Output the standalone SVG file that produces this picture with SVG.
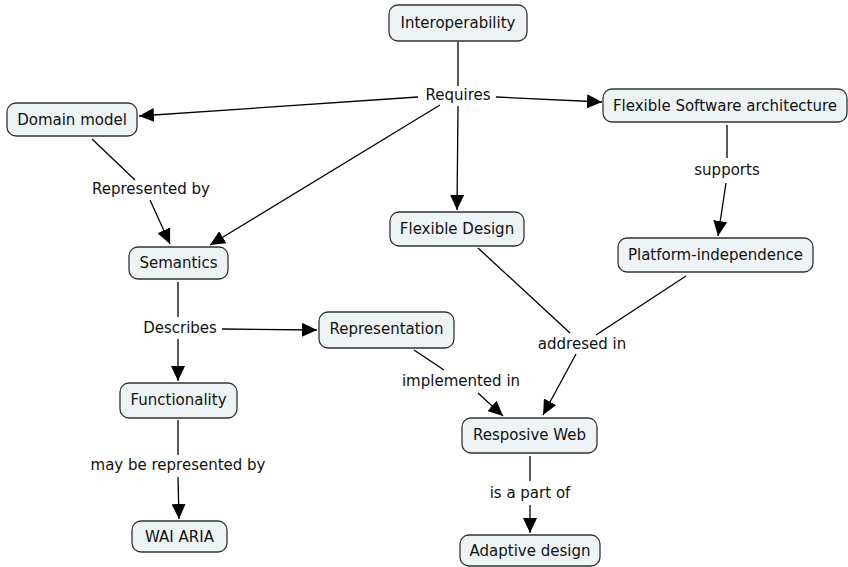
<svg xmlns="http://www.w3.org/2000/svg" width="848" height="567" viewBox="0 0 848 567">
  <defs>
    <marker id="arrow" markerWidth="15" markerHeight="14" refX="15" refY="7" orient="auto" markerUnits="userSpaceOnUse">
      <path d="M0,0 L15,7 L0,14 Z" fill="#000"/>
    </marker>
    <style>
      .node rect { fill: #eef3f5; stroke: #333; stroke-width: 1.3; }
      .node text, .label { font-family: "DejaVu Sans", Verdana, sans-serif; font-size: 15px; fill: #111; text-anchor: middle; dominant-baseline: central; }
      .link { stroke: #000; stroke-width: 1.3; fill: none; }
      .arrow { marker-end: url(#arrow); }
    </style>
  </defs>
  <rect width="848" height="567" fill="#fff"/>

  <!-- connectors -->
  <g id="connectors">
    <line class="link" x1="458" y1="42" x2="458" y2="86"/>
    <line class="link arrow" x1="418" y1="97" x2="139" y2="116"/>
    <line class="link arrow" x1="496" y1="97" x2="602" y2="102"/>
    <line class="link arrow" x1="440" y1="105" x2="210" y2="245"/>
    <line class="link arrow" x1="458" y1="106" x2="457" y2="210"/>

    <line class="link" x1="92" y1="139" x2="135" y2="180"/>
    <line class="link arrow" x1="150" y1="200" x2="170" y2="244"/>

    <line class="link" x1="727" y1="125" x2="727" y2="158"/>
    <line class="link arrow" x1="726" y1="183" x2="718" y2="236"/>

    <line class="link" x1="178" y1="282" x2="178" y2="317"/>
    <line class="link arrow" x1="178" y1="339" x2="178" y2="381"/>
    <line class="link arrow" x1="222" y1="329" x2="317" y2="330"/>

    <line class="link" x1="414" y1="350" x2="444" y2="370"/>
    <line class="link arrow" x1="478" y1="393" x2="503" y2="416"/>

    <line class="link" x1="478" y1="248" x2="570" y2="333"/>
    <line class="link" x1="686" y1="276" x2="596" y2="335"/>
    <line class="link arrow" x1="576" y1="354" x2="543" y2="415"/>

    <line class="link" x1="178" y1="420" x2="178" y2="455"/>
    <line class="link arrow" x1="178" y1="477" x2="179" y2="519"/>

    <line class="link" x1="530" y1="456" x2="530" y2="481"/>
    <line class="link arrow" x1="530" y1="505" x2="530" y2="533"/>

    <text class="label" x="458" y="95">Requires</text>
    <text class="label" x="151" y="189">Represented by</text>
    <text class="label" x="727" y="170">supports</text>
    <text class="label" x="180" y="328">Describes</text>
    <text class="label" x="582" y="344">addresed in</text>
    <text class="label" x="461" y="381">implemented in</text>
    <text class="label" x="178" y="465">may be represented by</text>
    <text class="label" x="530" y="493">is a part of</text>
  </g>

  <!-- nodes -->
  <g id="interoperability" class="node"><rect x="389" y="5" width="138" height="36" rx="9"/><text x="458" y="23">Interoperability</text></g>
  <g id="domain-model" class="node"><rect x="7" y="103" width="130" height="33" rx="9"/><text x="72" y="120">Domain model</text></g>
  <g id="flexible-software-architecture" class="node"><rect x="603" y="89" width="244" height="33" rx="9"/><text x="725" y="106">Flexible Software architecture</text></g>
  <g id="semantics" class="node"><rect x="129" y="247" width="99" height="32" rx="9"/><text x="178.5" y="263">Semantics</text></g>
  <g id="flexible-design" class="node"><rect x="390" y="212" width="134" height="34" rx="9"/><text x="457" y="229">Flexible Design</text></g>
  <g id="platform-independence" class="node"><rect x="618" y="238" width="195" height="34" rx="9"/><text x="715.5" y="255">Platform-independence</text></g>
  <g id="representation" class="node"><rect x="319" y="312" width="135" height="36" rx="9"/><text x="386.5" y="329">Representation</text></g>
  <g id="functionality" class="node"><rect x="120" y="383" width="117" height="35" rx="9"/><text x="178.5" y="400">Functionality</text></g>
  <g id="responsive-web" class="node"><rect x="462" y="418" width="135" height="35" rx="9"/><text x="529.5" y="435">Resposive Web</text></g>
  <g id="wai-aria" class="node"><rect x="132" y="521" width="95" height="31" rx="9"/><text x="179.5" y="537">WAI ARIA</text></g>
  <g id="adaptive-design" class="node"><rect x="460" y="535" width="140" height="31" rx="9"/><text x="530" y="551">Adaptive design</text></g>
</svg>
